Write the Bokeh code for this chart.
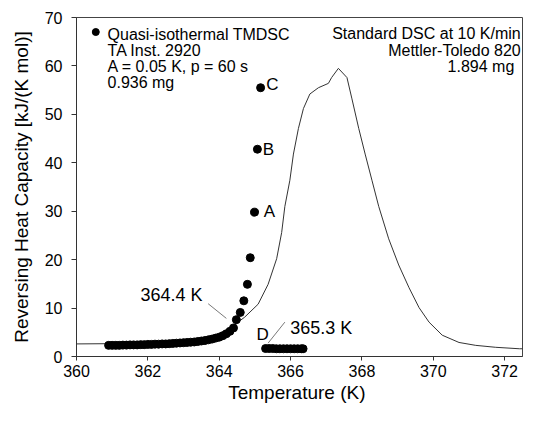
from bokeh.plotting import figure
from bokeh.models import Range1d, FixedTicker
from bokeh.core.properties import value
from bokeh.embed import file_html
from bokeh.resources import INLINE

# Quasi-isothermal TMDSC points (T in K, reversing heat capacity in kJ/(K mol))
qi_T = [360.9, 361.0, 361.1, 361.2, 361.3, 361.4, 361.5, 361.6, 361.7, 361.8,
        361.9, 362.0, 362.1, 362.2, 362.3, 362.4, 362.5, 362.6, 362.7, 362.8,
        362.9, 363.0, 363.1, 363.2, 363.3, 363.4, 363.5, 363.6, 363.7, 363.8,
        363.9, 364.0, 364.1, 364.2, 364.3, 364.4,
        364.48, 364.59, 364.69, 364.79, 364.87, 364.99, 365.07, 365.16]
qi_cp = [2.3, 2.3, 2.3, 2.3, 2.35, 2.35, 2.4, 2.4, 2.4, 2.45,
         2.45, 2.5, 2.5, 2.55, 2.55, 2.6, 2.6, 2.65, 2.7, 2.75,
         2.8, 2.85, 2.9, 2.95, 3.0, 3.1, 3.2, 3.3, 3.45, 3.6,
         3.8, 4.0, 4.3, 4.7, 5.2, 5.9,
         7.6, 9.1, 11.5, 14.9, 20.4, 29.8, 42.8, 55.5]

# Points after melting (D)
d_T = [365.3, 365.4, 365.5, 365.6, 365.7, 365.8, 365.9, 366.0, 366.1, 366.2, 366.3, 366.35]
d_cp = [1.65, 1.65, 1.65, 1.6, 1.6, 1.6, 1.6, 1.6, 1.6, 1.6, 1.6, 1.6]

# Standard DSC at 10 K/min
dsc_T = [360.0, 361.0, 362.0, 363.0, 363.5, 364.0, 364.34, 364.71, 365.09, 365.37,
         365.61, 365.75, 365.84, 365.98, 366.08, 366.22, 366.36, 366.54, 366.78,
         367.06, 367.15, 367.34, 367.58, 367.72, 367.91, 368.09, 368.28, 368.47,
         368.75, 369.03, 369.32, 369.60, 369.88, 370.25, 370.72, 371.19, 371.75,
         372.41, 372.98]
dsc_cp = [2.6, 2.65, 2.8, 3.2, 3.7, 4.6, 6.1, 8.1, 10.8, 14.9,
          20.2, 25.6, 31.0, 36.4, 41.8, 47.1, 51.2, 54.2, 55.5,
          56.4, 57.6, 59.5, 57.6, 53.2, 47.1, 41.8, 36.4, 31.0,
          24.3, 18.9, 14.2, 10.1, 7.1, 4.4, 2.9, 2.3, 1.9,
          1.6, 1.6]

x_ticks = [360, 362, 364, 366, 368, 370, 372]
y_ticks = [0, 10, 20, 30, 40, 50, 60, 70]

legend_lines = ["Quasi-isothermal TMDSC", "TA Inst. 2920", "A = 0.05 K, p = 60 s", "0.936 mg"]
dsc_lines = ["Standard DSC at 10 K/min", "Mettler-Toledo 820", "1.894 mg"]
point_labels = ["A", "B", "C", "D"]

FONT = "Liberation Sans"

p = figure(width=523, height=405, output_backend="svg", toolbar_location=None,
           x_range=Range1d(360, 372.5), y_range=Range1d(0, 70),
           min_border_left=76, min_border_right=1, min_border_top=17, min_border_bottom=10)
p.grid.visible = False
p.outline_line_color = "#444444"
p.outline_line_width = 1
p.background_fill_color = "white"
p.border_fill_color = "white"

for ax in (p.xaxis[0], p.yaxis[0]):
    ax.axis_line_color = "#333333"
    ax.major_tick_line_color = "#333333"
    ax.major_tick_out = 5
    ax.major_tick_in = 0
    ax.minor_tick_line_color = None
    ax.major_label_text_font = FONT
    ax.major_label_text_font_size = "16px"
    ax.major_label_text_color = "black"
    ax.axis_label_text_font = FONT
    ax.axis_label_text_font_size = "19px"
    ax.axis_label_text_font_style = "normal"
    ax.axis_label_text_color = "black"

p.xaxis.ticker = FixedTicker(ticks=x_ticks)
p.yaxis.ticker = FixedTicker(ticks=y_ticks)
p.xaxis.axis_label = "Temperature  (K)"
p.yaxis.axis_label = "Reversing Heat Capacity [kJ/(K mol)]"
p.xaxis.major_tick_out = 4
p.xaxis.major_label_standoff = 4
p.xaxis.axis_label_standoff = 2
p.yaxis.major_label_standoff = 9
p.yaxis.axis_label_standoff = 10

# DSC curve
p.line(dsc_T, dsc_cp, line_color="#333333", line_width=1)

# quasi-isothermal points
p.scatter(qi_T, qi_cp, size=8, marker="circle", fill_color="black", line_color="black")
p.scatter(d_T, d_cp, size=8, marker="circle", fill_color="black", line_color="black")

# legend-like annotation (top-left)
p.scatter([360.54], [67.0], size=7, marker="circle", fill_color="black", line_color="black")
p.text([360.87] * 4, [66.4, 63.1, 59.8, 56.5], text=legend_lines,
       text_font=value(FONT), text_font_size="16px", text_color="black",
       text_align="left", text_baseline="middle")

# top-right annotation
p.text([372.45, 372.45, 372.27], [66.6, 63.2, 59.9], text=dsc_lines,
       text_font=value(FONT), text_font_size="16px", text_color="black",
       text_align="right", text_baseline="middle")

# point labels A, B, C, D
p.text([365.41, 365.38, 365.49, 365.22], [30.0, 42.8, 56.2, 4.5], text=point_labels,
       text_font=value(FONT), text_font_size="17px", text_color="black",
       text_align="center", text_baseline="middle")

# temperature annotations with leader lines
p.text([362.66, 366.86], [12.7, 5.8], text=["364.4 K", "365.3 K"],
       text_font=value(FONT), text_font_size="18px", text_color="black",
       text_align="center", text_baseline="middle")
p.segment(x0=[363.69, 365.37], y0=[10.9, 2.76], x1=[364.20, 365.84], y1=[7.87, 7.1],
          line_color="#555555", line_width=0.8)

open("out.html", "w").write(file_html(p, INLINE))
